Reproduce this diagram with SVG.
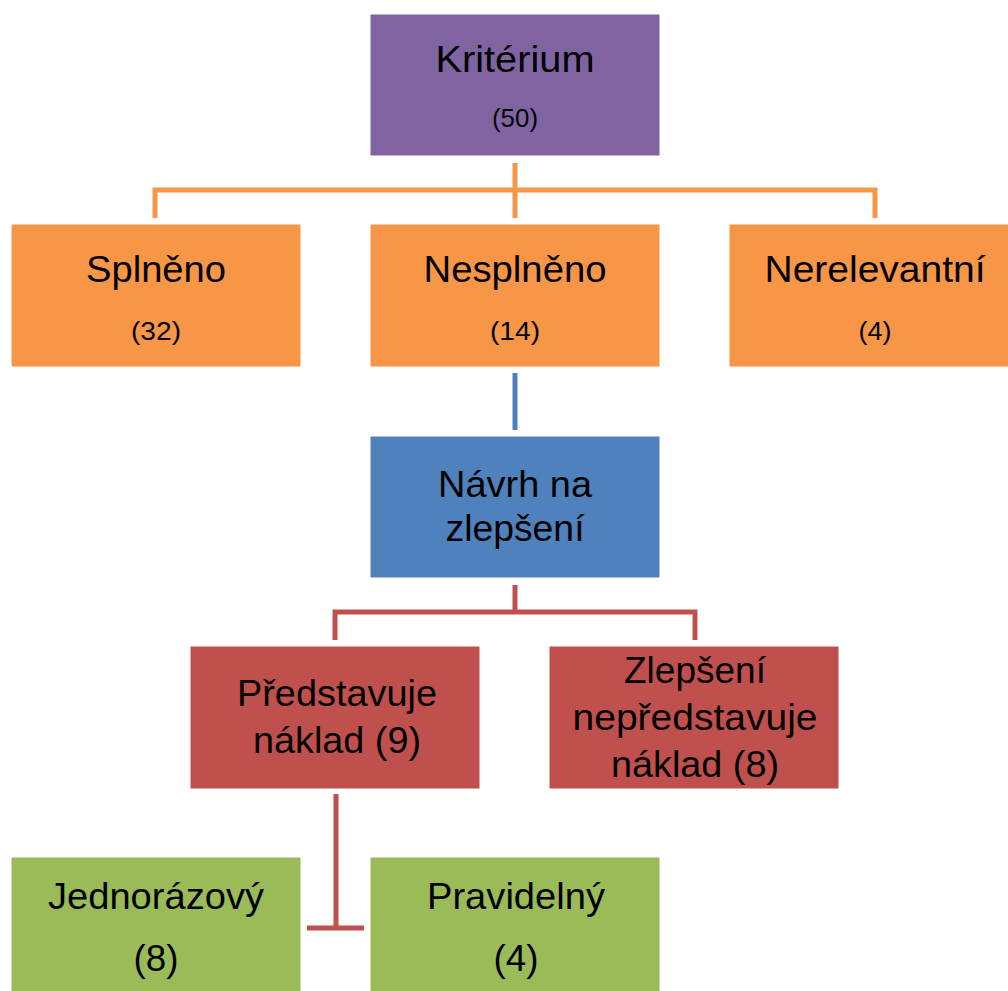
<svg xmlns="http://www.w3.org/2000/svg" width="1008" height="991" viewBox="0 0 1008 991">
<style>
.t{font-family:"Liberation Sans",Arial,sans-serif;font-size:37px;fill:#000;text-anchor:middle}
.s{font-family:"Liberation Sans",Arial,sans-serif;font-size:25px;fill:#000;text-anchor:middle}
.box{stroke:#fff;stroke-width:1}
.c{fill:none;stroke-width:5;stroke-linecap:butt;stroke-linejoin:miter}
</style>
<rect width="1008" height="991" fill="#fff"/>
<g id="connectors">
<path class="c" stroke="#F79646" d="M515,163V218 M155,218V190H875V218"/>
<path class="c" stroke="#4F81BD" stroke-width="4" d="M515,373V430"/>
<path class="c" stroke="#C0504D" d="M515,585V612 M335,640V612H695V640"/>
<path class="c" stroke="#C0504D" d="M336,794V928 M307,928H364"/>
</g>
<g id="kriterium">
<rect class="box" x="370" y="14" width="290" height="142" fill="#8064A2"/>
<text class="t" x="515" y="72" textLength="159" lengthAdjust="spacingAndGlyphs">Kritérium</text>
<text class="s" x="515" y="127" textLength="46" lengthAdjust="spacingAndGlyphs">(50)</text>
</g>
<g id="splneno">
<rect class="box" x="11" y="224" width="290" height="143" fill="#F79646"/>
<text class="t" x="156" y="282" textLength="140" lengthAdjust="spacingAndGlyphs">Splněno</text>
<text class="s" x="156" y="340" textLength="50" lengthAdjust="spacingAndGlyphs">(32)</text>
</g>
<g id="nesplneno">
<rect class="box" x="370" y="224" width="290" height="143" fill="#F79646"/>
<text class="t" x="515" y="282" textLength="183" lengthAdjust="spacingAndGlyphs">Nesplněno</text>
<text class="s" x="515" y="340" textLength="50" lengthAdjust="spacingAndGlyphs">(14)</text>
</g>
<g id="nerelevantni">
<rect class="box" x="729" y="224" width="290" height="143" fill="#F79646"/>
<text class="t" x="875" y="282" textLength="221" lengthAdjust="spacingAndGlyphs">Nerelevantní</text>
<text class="s" x="875" y="340" textLength="33" lengthAdjust="spacingAndGlyphs">(4)</text>
</g>
<g id="navrh">
<rect class="box" x="370" y="436" width="290" height="142" fill="#4F81BD"/>
<text class="t" x="515" y="497" textLength="154" lengthAdjust="spacingAndGlyphs">Návrh na</text>
<text class="t" x="515" y="541" textLength="139" lengthAdjust="spacingAndGlyphs">zlepšení</text>
</g>
<g id="predstavuje">
<rect class="box" x="190" y="646" width="290" height="143" fill="#C0504D"/>
<text class="t" x="337" y="706" textLength="200" lengthAdjust="spacingAndGlyphs">Představuje</text>
<text class="t" x="337" y="753" textLength="168" lengthAdjust="spacingAndGlyphs">náklad (9)</text>
</g>
<g id="zlepseni">
<rect class="box" x="549" y="646" width="290" height="143" fill="#C0504D"/>
<text class="t" x="695" y="683" textLength="142" lengthAdjust="spacingAndGlyphs">Zlepšení</text>
<text class="t" x="695" y="730" textLength="245" lengthAdjust="spacingAndGlyphs">nepředstavuje</text>
<text class="t" x="695" y="777" textLength="168" lengthAdjust="spacingAndGlyphs">náklad (8)</text>
</g>
<g id="jednorazovy">
<rect class="box" x="11" y="857" width="290" height="142" fill="#9BBB59"/>
<text class="t" x="156" y="909" textLength="216" lengthAdjust="spacingAndGlyphs">Jednorázový</text>
<text class="t" x="156" y="971" textLength="45" lengthAdjust="spacingAndGlyphs">(8)</text>
</g>
<g id="pravidelny">
<rect class="box" x="370" y="857" width="290" height="142" fill="#9BBB59"/>
<text class="t" x="516" y="909" textLength="178" lengthAdjust="spacingAndGlyphs">Pravidelný</text>
<text class="t" x="516" y="971" textLength="45" lengthAdjust="spacingAndGlyphs">(4)</text>
</g>
</svg>
